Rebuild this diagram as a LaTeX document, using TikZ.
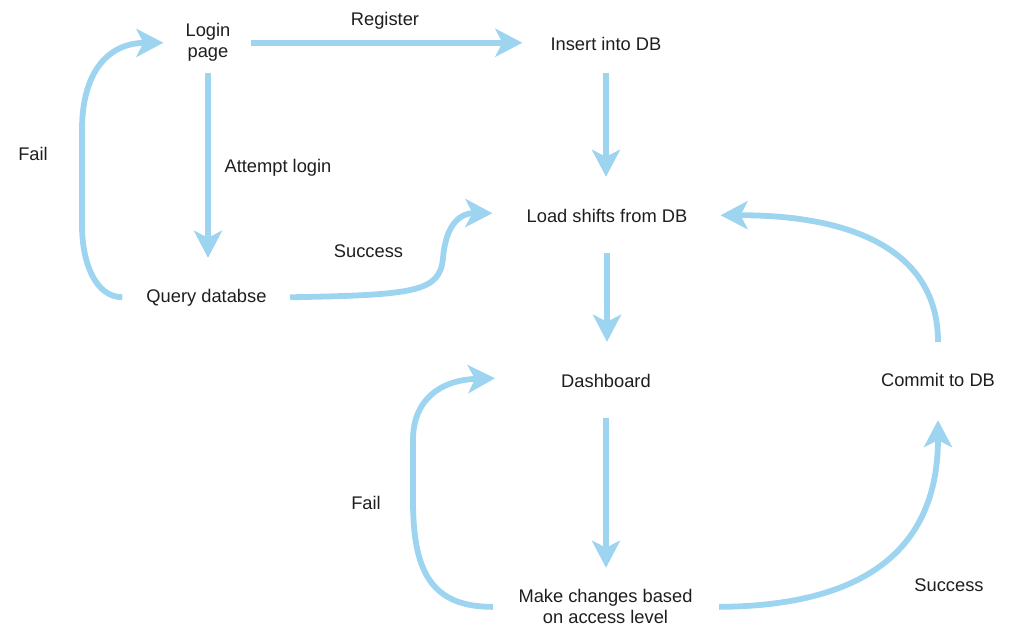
\documentclass[tikz,border=0pt]{standalone}
\usepackage{fontspec}
\setmainfont{Liberation Sans}
\usetikzlibrary{arrows.meta}
\definecolor{flowblue}{RGB}{157,212,239}
\definecolor{inkgray}{RGB}{30,30,30}

\begin{document}
\begin{tikzpicture}[x=1pt,y=-1pt,
  every node/.style={font=\fontsize{18.3}{21}\selectfont, text=inkgray},
  stepbox/.style={inner sep=0pt, text height=13.4pt, text depth=3.9pt},
  twobox/.style={inner sep=0pt, align=center},
  flow/.style={draw=flowblue, line width=5.8pt, -{Stealth[length=27pt,width=28pt,inset=7pt]}}]
\useasboundingbox (0,0) rectangle (1031,630);

% Steps
\node[twobox]  (login)  at (208,42.75)    {Login\\page};
\node[stepbox] (insert) at (606,45.25)    {Insert into DB};
\node[stepbox] (load)   at (607,217.25)   {Load shifts from DB};
\node[stepbox] (query)  at (206.5,297.25) {Query databse};
\node[stepbox] (dash)   at (606,382.25)   {Dashboard};
\node[stepbox] (commit) at (938,381.25)   {Commit to DB};
\node[twobox]  (change) at (605.5,606.85) {Make changes based\\on access level};

% Labels
\node[stepbox] (register) at (385,21)      {Register};
\node[stepbox] (attempt)  at (278,167.25)  {Attempt login};
\node[stepbox] (okquery)  at (368.5,252.25) {Success};
\node[stepbox] (failquery) at (33,155.25)  {Fail};
\node[stepbox] (failchange) at (366,504.25) {Fail};
\node[stepbox] (okchange) at (949,586.75)  {Success};

% Straight arrows
\draw[flow, shorten <=20.5pt, shorten >=28pt] (login.east) -- (login.east -| insert.west);
\draw[flow, shorten <=11pt, shorten >=30.6pt] (login.south) -- (login.south |- query.north);
\draw[flow, shorten <=19.1pt, shorten >=31.6pt] (insert.south) -- (insert.south |- load.north);
\draw[flow, shorten <=27pt, shorten >=31.6pt] (load.south) -- (load.south |- dash.north);
\draw[flow, shorten <=27pt, shorten >=21.7pt] (dash.south) -- (dash.south |- change.north);

% Curved arrows
\draw[flow] ([xshift=23.5pt]query.east) .. controls (415,295) and (440,292) .. (443,258)
  .. controls (446,222) and (462,213) .. ([xshift=-34pt,yshift=4pt]load.west);
\draw[flow] ([xshift=-24pt]query.west) .. controls (95,297) and (82,262) .. (82,225) -- (82,130)
  .. controls (82,72) and (108,43) .. ([xshift=-22pt]login.west);
\draw[flow] ([xshift=-25.5pt]change.west) .. controls (430,607) and (413,570) .. (413,500) -- (413,440)
  .. controls (413,400) and (440,380) .. ([xshift=-66pt,yshift=4pt]dash.west);
\draw[flow] ([xshift=26.5pt]change.east) .. controls (850,606) and (938,560) .. ([yshift=-30pt]commit.south);
\draw[flow] ([yshift=30.6pt]commit.north) .. controls (938,255) and (860,215) .. ([xshift=33pt,yshift=2pt]load.east);
\end{tikzpicture}
\end{document}
